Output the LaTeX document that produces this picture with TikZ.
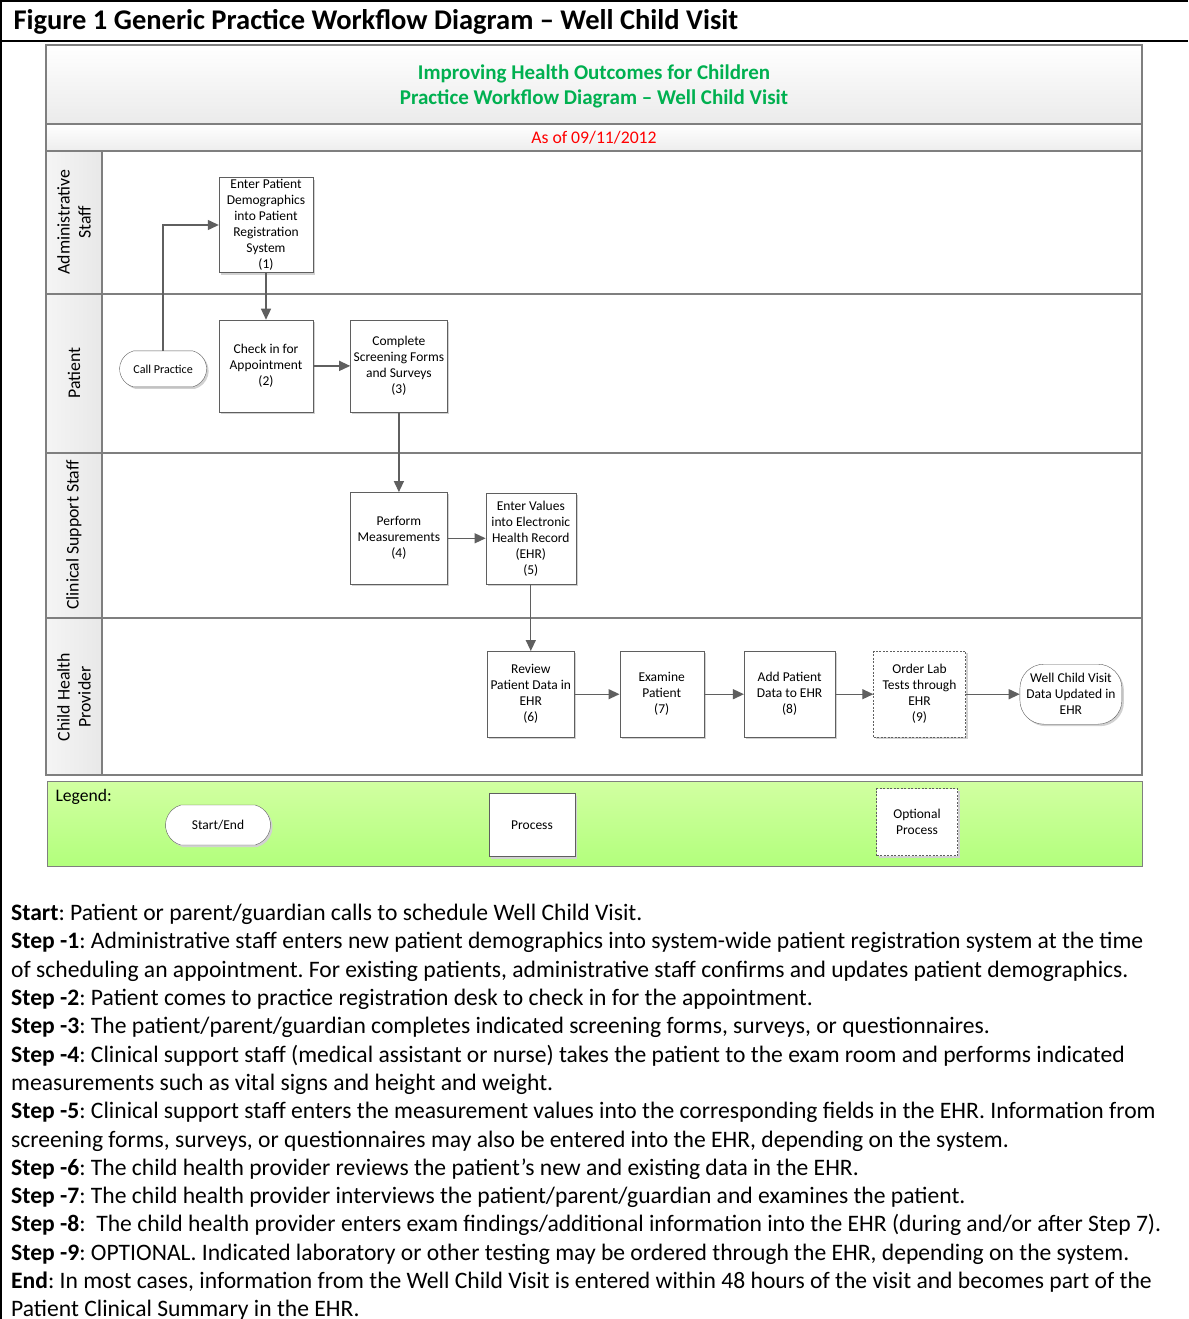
\documentclass[tikz,border=0pt]{standalone}
\usepackage{fontspec}
\setmainfont{Carlito}
\usetikzlibrary{positioning,shadows,arrows.meta,shapes.misc}
\definecolor{titlegreen}{HTML}{00B050}
\definecolor{linegray}{HTML}{5F5F5F}
\definecolor{lanegray}{HTML}{7F7F7F}
\definecolor{legendgreen}{HTML}{C6FF8A}
\frenchspacing

\begin{document}
\begin{tikzpicture}[x=1pt, y=-1pt, node distance=40pt, auto,
    proc/.style={draw=linegray, fill=white, minimum width=94pt, minimum height=92pt, inner sep=1pt, align=center, font=\fontsize{13.5}{16}\selectfont, drop shadow={shadow xshift=2pt, shadow yshift=-2pt, fill=black!18, opacity=1}},
    optproc/.style={proc, dashed, dash pattern=on 2pt off 1.5pt},
    term/.style={proc, rounded rectangle, rounded rectangle arc length=150},
    flow/.style={draw=linegray, line width=1.3pt, -{Triangle[length=11pt, width=10pt]}},
    lanelabel/.style={rotate=90, align=center, font=\fontsize{17.8}{21}\selectfont}]
  \useasboundingbox (0,0) rectangle (1188,1319);
  \fill[white] (0,0) rectangle (1188,1319);

  \draw[line width=2pt] (0,1) -- (1188,1);
  \draw[line width=2pt] (0,41) -- (1188,41);
  \draw[line width=1.5pt] (1,0) -- (1,1319);
  \node[anchor=west, font=\fontsize{28.5}{32}\selectfont\bfseries] (figtitle) at (10,22) {Figure 1 Generic Practice Workflow Diagram – Well Child Visit};

  \shade[top color=white, bottom color=black!8] (46,45) rectangle (1142,124);
  \shade[top color=white, bottom color=black!7] (46,124) rectangle (1142,151);
  \shade[left color=black!4, right color=black!9] (46,151) rectangle (102,775);
  \draw[lanegray, line width=1.2pt] (46,124) -- (1142,124) (46,151) -- (1142,151)
    (46,294) -- (1142,294) (46,453) -- (1142,453) (46,618) -- (1142,618) (102,151) -- (102,775);
  \draw[lanegray, line width=1.5pt] (46,45) rectangle (1142,775);

  \node[align=center, text=titlegreen, font=\fontsize{21}{25}\selectfont\bfseries] (pooltitle) at (594,86) {Improving Health Outcomes for Children\\Practice Workflow Diagram – Well Child Visit};
  \node[text=red, font=\fontsize{17.7}{20}\selectfont] (asof) at (594,138) {As of 09/11/2012};

  \node[lanelabel] (laneadmin) at (74,222) {Administrative\\Staff};
  \node[lanelabel] (lanepatient) at (74,373) {Patient};
  \node[lanelabel] (laneclinical) at (74,535) {Clinical Support Staff};
  \node[lanelabel] (laneprovider) at (74,697) {Child Health\\Provider};

  \node[proc, minimum height=95pt] (enter) at (266,225) {Enter Patient\\Demographics\\into Patient\\Registration\\System\\(1)};
  \node[proc, below=47pt of enter] (checkin) {Check in for\\Appointment\\(2)};
  \node[term, minimum width=89pt, minimum height=36pt, font=\fontsize{12.1}{14}\selectfont, left=12pt of checkin, yshift=-3pt] (call) {Call Practice};
  \node[proc, minimum width=97pt, right=37pt of checkin] (screen) {Complete\\Screening Forms\\and Surveys\\(3)};
  \node[proc, minimum width=97pt, below=80pt of screen] (measure) {Perform\\Measurements\\(4)};
  \node[proc, minimum width=90pt, minimum height=91pt, right=38pt of measure] (values) {Enter Values\\into Electronic\\Health Record\\(EHR)\\(5)};
  \node[proc, minimum width=87pt, minimum height=86pt, below=67pt of values] (review) {Review\\Patient Data in\\EHR\\(6)};
  \node[proc, minimum width=84pt, minimum height=86pt, right=45pt of review] (examine) {Examine\\Patient\\(7)};
  \node[proc, minimum width=91pt, minimum height=86pt, right=40pt of examine] (adddata) {Add Patient\\Data to EHR\\(8)};
  \node[optproc, minimum width=92pt, minimum height=86pt, right=38pt of adddata] (order) {Order Lab\\Tests through\\EHR\\(9)};
  \node[proc, rounded corners=24pt, minimum width=102pt, minimum height=60pt, inner xsep=3pt, right=54pt of order] (updated) {Well Child Visit\\Data Updated in\\EHR};

  \draw[flow] (call.north) |- (enter.west);
  \draw[flow] (enter) -- (checkin);
  \draw[flow] (checkin) -- (screen);
  \draw[flow] (screen) -- (measure);
  \draw[flow] (measure) -- (values);
  \draw[flow] (values) -- (review);
  \draw[flow] (review) -- (examine);
  \draw[flow] (examine) -- (adddata);
  \draw[flow] (adddata) -- (order);
  \draw[flow] (order) -- (updated);

  \shade[top color=legendgreen!80!white, bottom color=legendgreen!90!green, draw=lanegray, line width=1pt] (47,781) rectangle (1142,866);
  \node[anchor=west, font=\fontsize{17.6}{20}\selectfont] (legend) at (52,797) {Legend:};
  \node[term, minimum width=107pt, minimum height=40pt] (legstart) at (218,825) {Start/End};
  \node[proc, minimum width=86pt, minimum height=63pt] (legproc) at (532,825) {Process};
  \node[optproc, minimum width=81pt, minimum height=67pt] (legopt) at (917,822) {Optional\\Process};

  \node[anchor=north west, align=left, inner sep=0pt, font=\fontsize{23.6}{28.3}\selectfont] (steps) at (11,904) {%
\textbf{Start}: Patient or parent/guardian calls to schedule Well Child Visit.\\
\textbf{Step -1}: Administrative staff enters new patient demographics into system-wide patient registration system at the time\\
of scheduling an appointment. For existing patients, administrative staff confirms and updates patient demographics.\\
\textbf{Step -2}: Patient comes to practice registration desk to check in for the appointment.\\
\textbf{Step -3}: The patient/parent/guardian completes indicated screening forms, surveys, or questionnaires.\\
\textbf{Step -4}: Clinical support staff (medical assistant or nurse) takes the patient to the exam room and performs indicated\\
measurements such as vital signs and height and weight.\\
\textbf{Step -5}: Clinical support staff enters the measurement values into the corresponding fields in the EHR. Information from\\
screening forms, surveys, or questionnaires may also be entered into the EHR, depending on the system.\\
\textbf{Step -6}: The child health provider reviews the patient’s new and existing data in the EHR.\\
\textbf{Step -7}: The child health provider interviews the patient/parent/guardian and examines the patient.\\
\textbf{Step -8}:~ The child health provider enters exam findings/additional information into the EHR (during and/or after Step 7).\\
\textbf{Step -9}: OPTIONAL. Indicated laboratory or other testing may be ordered through the EHR, depending on the system.\\
\textbf{End}: In most cases, information from the Well Child Visit is entered within 48 hours of the visit and becomes part of the\\
Patient Clinical Summary in the EHR.};
\end{tikzpicture}
\end{document}
